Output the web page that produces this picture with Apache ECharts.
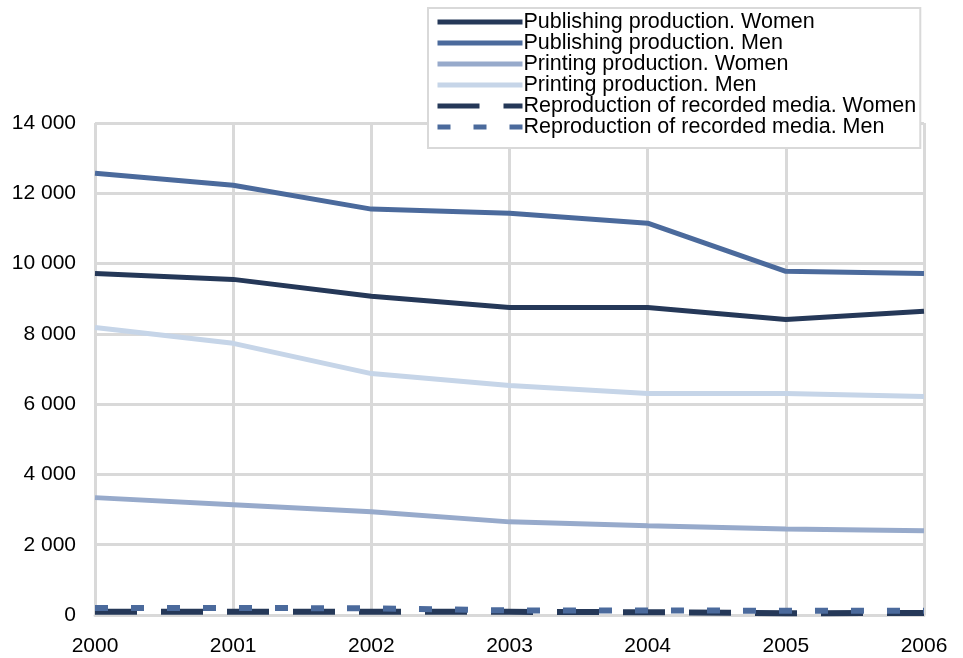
<!DOCTYPE html>
<html>
<head>
<meta charset="utf-8">
<script src="https://cdn.jsdelivr.net/npm/echarts@6/dist/echarts.min.js"></script>
<style>
  html, body { margin: 0; padding: 0; background: #fff; }
  #main { width: 963px; height: 658px; }
</style>
</head>
<body>
<div id="main"></div>
<script>
var years = ['2000', '2001', '2002', '2003', '2004', '2005', '2006'];
var pubWomen = [9720, 9550, 9070, 8750, 8750, 8410, 8640];
var pubMen = [12570, 12230, 11550, 11430, 11150, 9780, 9720];
var printWomen = [3340, 3140, 2940, 2650, 2540, 2450, 2400];
var printMen = [8180, 7730, 6870, 6530, 6300, 6300, 6220];
var reproWomen = [90, 90, 90, 90, 80, 50, 60];
var reproMen = [200, 200, 190, 130, 130, 120, 120];

var myChart = echarts.init(document.getElementById('main'));

function lineSeries(name, data, color, dash) {
    return {
        name: name,
        type: 'line',
        data: data,
        symbol: 'none',
        lineStyle: {
            color: color,
            width: dash ? 6 : 5,
            type: dash || 'solid',
            cap: 'butt'
        },
        itemStyle: { color: color }
    };
}

var option = {
    backgroundColor: '#fff',
    animation: false,
    textStyle: { fontFamily: 'Liberation Sans, Arial, sans-serif' },
    grid: { left: 95, right: 39, top: 123, bottom: 43 },
    legend: {
        orient: 'vertical',
        left: 428,
        top: 8,
        padding: [3, 4, 10, 7],
        itemWidth: 85,
        itemHeight: 12,
        itemGap: -1,
        backgroundColor: '#fff',
        borderColor: '#d9d9d9',
        borderWidth: 2,
        borderRadius: 0,
        itemStyle: { opacity: 0 },
        lineStyle: { width: 5 },
        textStyle: { color: '#000', fontSize: 21.5, lineHeight: 21, padding: [0, 0, 0, -4] },
        data: [
            'Publishing production. Women',
            'Publishing production. Men',
            'Printing production. Women',
            'Printing production. Men',
            'Reproduction of recorded media. Women',
            'Reproduction of recorded media. Men'
        ]
    },
    xAxis: {
        type: 'category',
        data: years,
        boundaryGap: false,
        axisLine: { show: true, lineStyle: { color: '#d9d9d9', width: 3 } },
        axisTick: { show: false },
        axisLabel: { color: '#000', fontSize: 21, margin: 21 },
        splitLine: { show: true, lineStyle: { color: '#d9d9d9', width: 3 } }
    },
    yAxis: {
        type: 'value',
        min: 0,
        max: 14000,
        interval: 2000,
        axisLine: { show: false },
        axisTick: { show: false },
        axisLabel: {
            color: '#000',
            fontSize: 21,
            margin: 19,
            formatter: function (v) {
                return String(v).replace(/\B(?=(\d{3})+(?!\d))/g, ' ');
            }
        },
        splitLine: { show: true, lineStyle: { color: '#d9d9d9', width: 3 } }
    },
    series: [
        lineSeries('Publishing production. Women', pubWomen, '#253858'),
        lineSeries('Publishing production. Men', pubMen, '#4b6a9c'),
        lineSeries('Printing production. Women', printWomen, '#97aacb'),
        lineSeries('Printing production. Men', printMen, '#c6d5e8'),
        lineSeries('Reproduction of recorded media. Women', reproWomen, '#253858', [42, 24]),
        lineSeries('Reproduction of recorded media. Men', reproMen, '#4b6a9c', [13, 23])
    ]
};

myChart.setOption(option);
</script>
</body>
</html>
